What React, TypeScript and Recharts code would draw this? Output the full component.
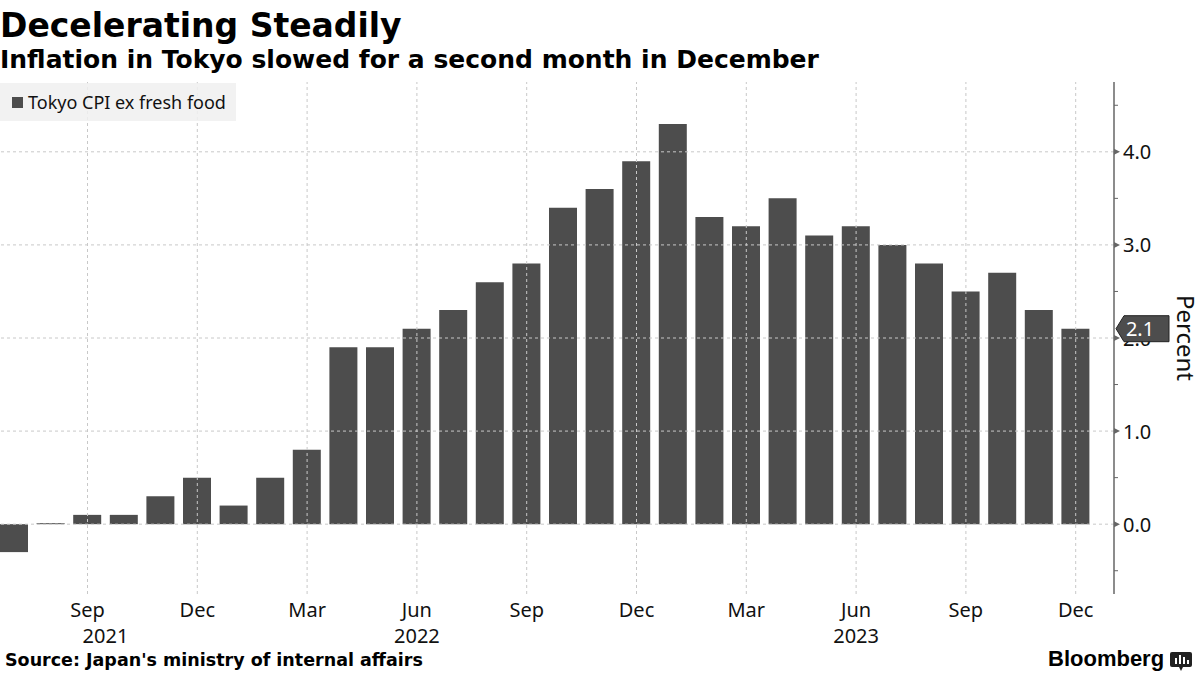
import React from 'react';
import { BarChart, Bar, XAxis, YAxis, ReferenceLine } from 'recharts';

// Tokyo CPI ex fresh food, YoY %, Jul 2021 - Dec 2023
const monthKeys = [
  '2021-07', '2021-08', '2021-09', '2021-10', '2021-11', '2021-12',
  '2022-01', '2022-02', '2022-03', '2022-04', '2022-05', '2022-06',
  '2022-07', '2022-08', '2022-09', '2022-10', '2022-11', '2022-12',
  '2023-01', '2023-02', '2023-03', '2023-04', '2023-05', '2023-06',
  '2023-07', '2023-08', '2023-09', '2023-10', '2023-11', '2023-12',
];
const cpiValues = [
  -0.3, 0.0, 0.1, 0.1, 0.3, 0.5,
  0.2, 0.5, 0.8, 1.9, 1.9, 2.1,
  2.3, 2.6, 2.8, 3.4, 3.6, 3.9,
  4.3, 3.3, 3.2, 3.5, 3.1, 3.2,
  3.0, 2.8, 2.5, 2.7, 2.3, 2.1,
];
const monthNames = ['Jan', 'Feb', 'Mar', 'Apr', 'May', 'Jun', 'Jul', 'Aug', 'Sep', 'Oct', 'Nov', 'Dec'];
const labelledMonths = ['Sep', 'Dec', 'Mar', 'Jun'];
const yearLabelKeys = ['2021-09', '2022-06', '2023-06'];
const axisTicks = [-0.5, 0, 0.5, 1, 1.5, 2, 2.5, 3, 3.5, 4, 4.5];
const gridValues = [0, 1, 2, 3, 4];

const data = monthKeys.map((key, i) => ({ key, cpi: cpiValues[i] }));
const lastValue = cpiValues[cpiValues.length - 1];
// the last value tag goes at the end so it's drawn over the axis labels
const yTicks = [...axisTicks, lastValue];
const monthOf = (key: string) => monthNames[Number(key.slice(5)) - 1];
const gridKeys = monthKeys.filter((k) => labelledMonths.includes(monthOf(k)));

const BAR = '#4d4d4d';
const GRID = '#c8c8c8';
const AXIS = '#666666';
const TICK_FONT = '"Noto Sans", sans-serif';
const BOLD_FONT = '"DejaVu Sans", Verdana, sans-serif';

const XTick = (props: any) => {
  const { x, y, payload } = props;
  const key: string = payload.value;
  const month = monthOf(key);
  const showMonth = labelledMonths.includes(month);
  const showYear = yearLabelKeys.includes(key);
  // 2021 only has a half year shown, its label sits between Sep and Oct
  const yearShift = key === '2021-09' ? 18 : 0;
  return (
    <g>
      {showMonth && (
        <text x={x} y={y + 23} textAnchor="middle" fontSize={20} fontFamily={TICK_FONT} fill="#111">
          {month}
        </text>
      )}
      {showYear && (
        <text x={x + yearShift} y={y + 49} textAnchor="middle" fontSize={20} fontFamily={TICK_FONT} fill="#111">
          {key.slice(0, 4)}
        </text>
      )}
    </g>
  );
};

const YTick = (props: any) => {
  const { x, y, payload, index } = props;
  const v: number = payload.value;
  if (index === yTicks.length - 1) {
    const x0 = x + 2;
    return (
      <g>
        <polygon
          points={`${x0},${y} ${x0 + 8},${y - 13} ${x0 + 53},${y - 13} ${x0 + 53},${y + 13} ${x0 + 8},${y + 13}`}
          fill={BAR}
          stroke="#222"
          strokeWidth={1}
        />
        <text x={x0 + 24} y={y} textAnchor="middle" dominantBaseline="central" fontSize={20} fontFamily={TICK_FONT} fill="#fff">
          {v.toFixed(1)}
        </text>
      </g>
    );
  }
  if (!Number.isInteger(v)) {
    return <line x1={x} x2={x + 4} y1={y} y2={y} stroke={AXIS} strokeWidth={1} />;
  }
  return (
    <g>
      <polygon points={`${x},${y - 3} ${x + 6},${y} ${x},${y + 3}`} fill={AXIS} />
      <text x={x + 9} y={y} dominantBaseline="central" fontSize={20} fontFamily={TICK_FONT} fill="#111">
        {v.toFixed(1)}
      </text>
    </g>
  );
};

const PercentLabel = (props: any) => {
  const { viewBox } = props;
  const cx = viewBox.x + 72;
  const cy = viewBox.y + viewBox.height / 2;
  return (
    <text
      x={cx}
      y={cy}
      transform={`rotate(90, ${cx}, ${cy})`}
      textAnchor="middle"
      dominantBaseline="central"
      fontSize={24}
      fontFamily={TICK_FONT}
      fill="#111"
    >
      Percent
    </text>
  );
};

export default function App() {
  return (
    <div style={{ position: 'fixed', left: 0, top: 0, width: 1200, height: 675, background: '#fff', overflow: 'hidden' }}>
      <div style={{ position: 'absolute', left: 0, top: 8.5, fontFamily: BOLD_FONT, fontWeight: 700, fontSize: 33, lineHeight: 1, color: '#000', whiteSpace: 'nowrap' }}>
        Decelerating Steadily
      </div>
      <div style={{ position: 'absolute', left: 0, top: 47, fontFamily: BOLD_FONT, fontWeight: 700, fontSize: 25, lineHeight: 1, color: '#000', whiteSpace: 'nowrap' }}>
        Inflation in Tokyo slowed for a second month in December
      </div>

      <div style={{ position: 'absolute', left: -4, top: 0 }}>
        <BarChart width={1204} height={675} data={data} margin={{ top: 82, right: 0, bottom: 31, left: 0 }}>
          {gridValues.map((v) => (
            <ReferenceLine key={`h${v}`} y={v} stroke={GRID} strokeDasharray="3 3" />
          ))}
          {gridKeys.map((k) => (
            <ReferenceLine key={`v${k}`} x={k} stroke={GRID} strokeDasharray="3 3" />
          ))}
          <XAxis
            dataKey="key"
            height={50}
            interval={0}
            axisLine={false}
            tickLine={false}
            tickSize={0}
            tickMargin={0}
            padding={{ left: 0, right: 20 }}
            tick={<XTick />}
          />
          <YAxis
            orientation="right"
            width={86}
            domain={[-0.75, 4.75]}
            ticks={yTicks}
            interval={0}
            allowDataOverflow
            axisLine={{ stroke: AXIS, strokeWidth: 1.5 }}
            tickLine={false}
            tickSize={0}
            tickMargin={0}
            tick={<YTick />}
            label={<PercentLabel />}
          />
          <Bar dataKey="cpi" fill={BAR} barSize={28} minPointSize={1} isAnimationActive={false} />
        </BarChart>
      </div>

      <div
        style={{
          position: 'absolute',
          left: 0,
          top: 83,
          width: 236,
          height: 38,
          background: 'rgba(240,240,240,0.85)',
          display: 'flex',
          alignItems: 'center',
          fontFamily: TICK_FONT,
          fontSize: 18,
          color: '#111',
          whiteSpace: 'nowrap',
        }}
      >
        <span style={{ display: 'inline-block', width: 11, height: 11, background: BAR, marginLeft: 12, marginRight: 5 }} />
        Tokyo CPI ex fresh food
      </div>

      <div style={{ position: 'absolute', left: 5, top: 652, fontFamily: BOLD_FONT, fontWeight: 700, fontSize: 17.5, lineHeight: 1, color: '#000', whiteSpace: 'nowrap' }}>
        Source: Japan's ministry of internal affairs
      </div>
      <div style={{ position: 'absolute', left: 1048, top: 648, fontFamily: '"Liberation Sans", Arial, sans-serif', fontWeight: 700, fontSize: 22, lineHeight: 1, color: '#000', whiteSpace: 'nowrap' }}>
        Bloomberg
      </div>
      <svg style={{ position: 'absolute', left: 1170, top: 652 }} width={24} height={20}>
        <rect x={0} y={0} width={22} height={15} rx={2} fill="#222" />
        <polygon points="9,15 13,15 11,19" fill="#222" />
        <rect x={5} y={6} width={2} height={6} fill="#fff" />
        <rect x={9} y={3} width={2} height={9} fill="#fff" />
        <rect x={13} y={5} width={2} height={7} fill="#fff" />
        <rect x={17} y={8} width={2} height={4} fill="#fff" />
      </svg>
    </div>
  );
}
